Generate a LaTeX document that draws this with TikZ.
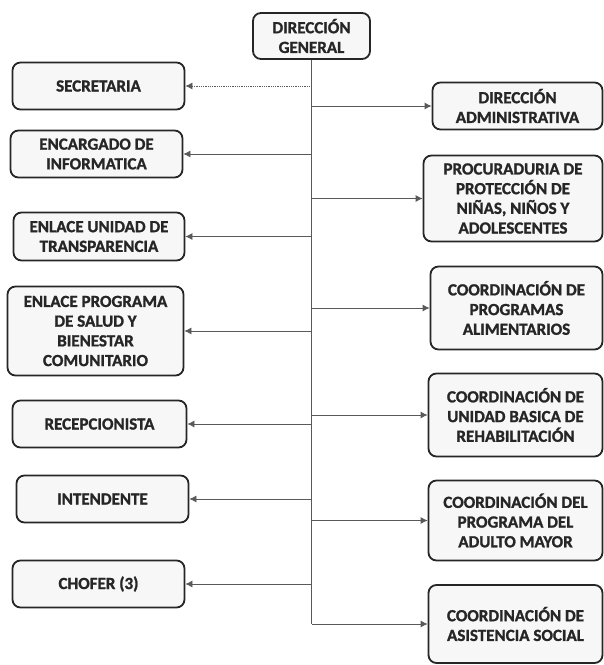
\documentclass[tikz,border=0pt]{standalone}
\usepackage{fontspec}
\setmainfont{Carlito}[BoldFeatures={FakeBold=1.3}]
\usetikzlibrary{arrows.meta}
\begin{document}
\begin{tikzpicture}[x=1pt,y=-1pt,
  box/.style={draw=black!85, line width=1.8pt, rounded corners=8pt, fill=black!3,
    align=center, inner sep=2pt, text=black!85,
    font=\fontsize{17}{19.7}\selectfont\bfseries},
  conn/.style={draw=black!65, line width=0.8pt},
  arr/.style={conn, -{Latex[length=7pt,width=7pt]}}]
\useasboundingbox (0,0) rectangle (604,665);
% top
\node[box, minimum width=117pt, minimum height=46pt] (dg) at (311.5,36) {DIRECCIÓN\\GENERAL};
% left column
\node[box, minimum width=172pt, minimum height=47pt] (sec) at (98.5,86) {SECRETARIA};
\node[box, minimum width=172pt, minimum height=47pt] (inf) at (96.5,154) {ENCARGADO DE\\INFORMATICA};
\node[box, minimum width=171pt, minimum height=48pt] (tra) at (99,236.5) {ENLACE UNIDAD DE\\TRANSPARENCIA};
\node[box, minimum width=176pt, minimum height=89pt] (sal) at (95.5,331) {ENLACE PROGRAMA\\DE SALUD Y\\BIENESTAR\\COMUNITARIO};
\node[box, minimum width=174pt, minimum height=47pt] (rec) at (99.5,424) {RECEPCIONISTA};
\node[box, minimum width=172pt, minimum height=47pt] (int) at (102.5,499) {INTENDENTE};
\node[box, minimum width=172pt, minimum height=47pt] (cho) at (98.5,584) {CHOFER (3)};
% right column
\node[box, minimum width=170pt, minimum height=47pt] (adm) at (517.5,106) {DIRECCIÓN\\ADMINISTRATIVA};
\node[box, minimum width=179pt, minimum height=86pt] (pro) at (513,198.5) {PROCURADURIA DE\\PROTECCIÓN DE\\NIÑAS, NIÑOS Y\\ADOLESCENTES};
\node[box, minimum width=172pt, minimum height=83pt] (ali) at (516.5,308) {COORDINACIÓN DE\\PROGRAMAS\\ALIMENTARIOS};
\node[box, minimum width=174pt, minimum height=83pt] (reh) at (515.5,415) {COORDINACIÓN DE\\UNIDAD BASICA DE\\REHABILITACIÓN};
\node[box, minimum width=174pt, minimum height=80pt] (may) at (515.5,520.5) {COORDINACIÓN DEL\\PROGRAMA DEL\\ADULTO MAYOR};
\node[box, minimum width=174pt, minimum height=78pt] (asi) at (515.5,624) {COORDINACIÓN DE\\ASISTENCIA SOCIAL};
% trunk
\coordinate (tend) at (asi.west -| dg.south);
\draw[conn] (dg.south) -- (tend);
% left connectors
\draw[arr, densely dotted] (sec.east -| dg.south) -- (sec.east);
\foreach \n in {inf,tra,sal,rec,int,cho}
  \draw[arr] (\n.east -| dg.south) -- (\n.east);
% right connectors
\foreach \n in {adm,pro,ali,reh,may,asi}
  \draw[arr] (\n.west -| dg.south) -- (\n.west);
\end{tikzpicture}
\end{document}
